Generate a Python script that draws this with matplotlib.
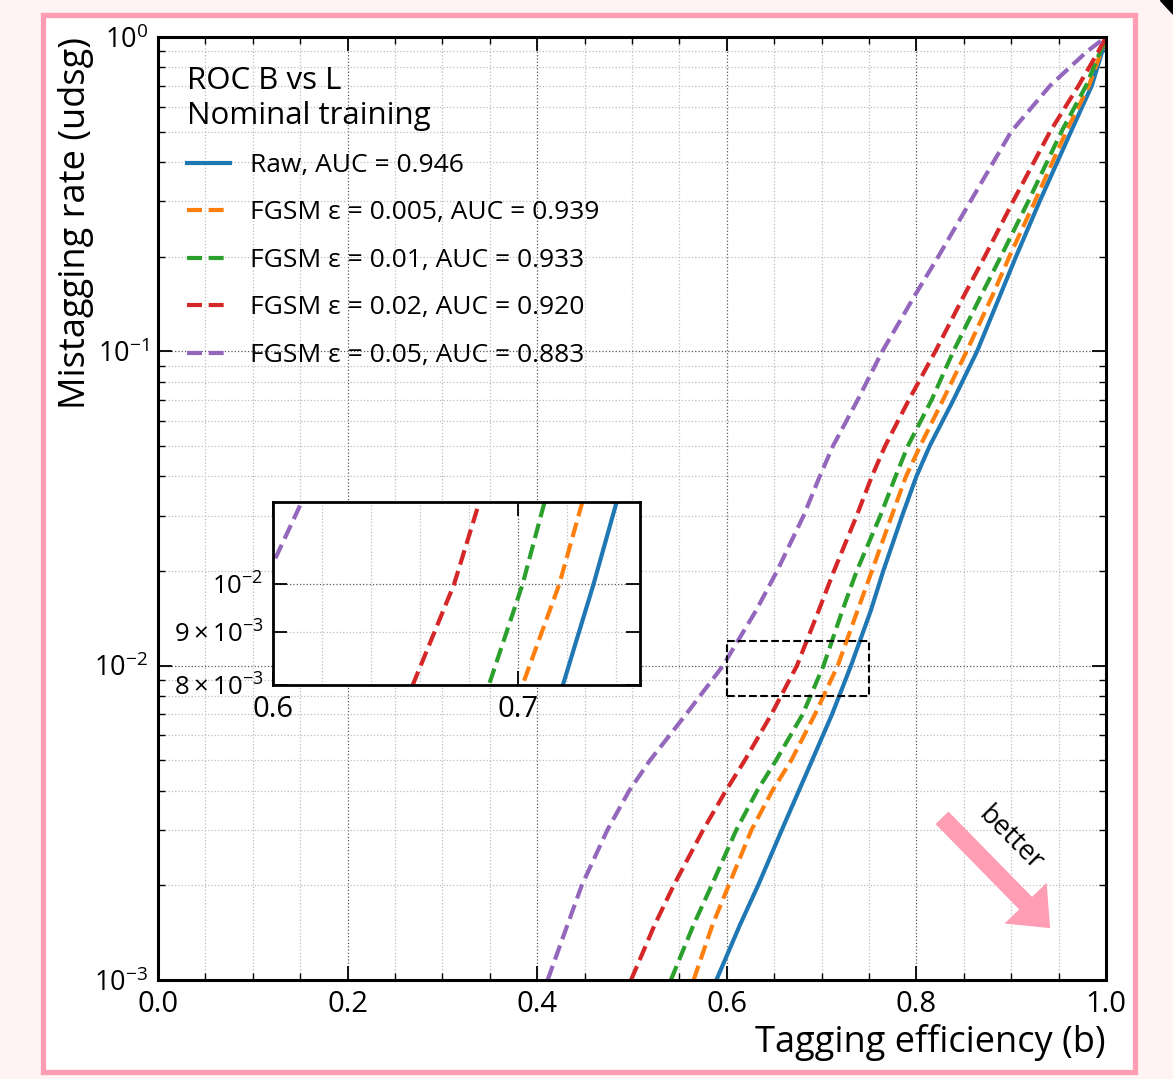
import numpy as np
import matplotlib
matplotlib.use("Agg")
import matplotlib.pyplot as plt
from matplotlib.patches import Rectangle, FancyArrow, Polygon
from matplotlib.ticker import MultipleLocator, LogLocator, NullFormatter

plt.rcParams['font.family'] = ['Open Sans', 'DejaVu Sans']
plt.rcParams['mathtext.fontset'] = 'custom'
plt.rcParams['mathtext.rm'] = 'Open Sans'
plt.rcParams['mathtext.it'] = 'Open Sans:italic'
plt.rcParams['mathtext.bf'] = 'Open Sans:bold'

# mistag rate levels (udsg) and b-efficiency
mistag = [0.001, 0.0015, 0.002, 0.003, 0.004, 0.005, 0.007, 0.01, 0.015, 0.02,
          0.03, 0.04, 0.05, 0.07, 0.1, 0.15, 0.2, 0.3, 0.5, 0.7, 0.9, 1.0]
eff_raw = [0.589, 0.614, 0.633, 0.658, 0.676, 0.690, 0.711, 0.731, 0.752, 0.765,
           0.785, 0.800, 0.814, 0.839, 0.864, 0.888, 0.905, 0.930, 0.963, 0.985,
           0.996, 1.0]
eff_005 = [0.565, 0.585, 0.602, 0.626, 0.648, 0.668, 0.693, 0.717, 0.738, 0.753,
           0.774, 0.789, 0.804, 0.828, 0.853, 0.880, 0.898, 0.925, 0.958, 0.982,
           0.995, 1.0]
eff_01 = [0.541, 0.565, 0.584, 0.610, 0.632, 0.652, 0.680, 0.702, 0.722, 0.737,
          0.762, 0.778, 0.791, 0.816, 0.839, 0.868, 0.889, 0.918, 0.953, 0.979,
          0.994, 1.0]
eff_02 = [0.499, 0.524, 0.544, 0.575, 0.599, 0.619, 0.647, 0.674, 0.697, 0.713,
          0.737, 0.753, 0.767, 0.792, 0.820, 0.850, 0.872, 0.902, 0.941, 0.971,
          0.992, 1.0]
eff_05 = [0.411, 0.432, 0.447, 0.474, 0.497, 0.519, 0.557, 0.596, 0.631, 0.653,
          0.681, 0.698, 0.712, 0.738, 0.764, 0.798, 0.823, 0.857, 0.900, 0.941,
          0.980, 1.0]

labels = ["Raw, AUC = 0.946",
          "FGSM ε = 0.005, AUC = 0.939",
          "FGSM ε = 0.01, AUC = 0.933",
          "FGSM ε = 0.02, AUC = 0.920",
          "FGSM ε = 0.05, AUC = 0.883"]
curves = [eff_raw, eff_005, eff_01, eff_02, eff_05]
colors = ['#1f77b4', '#ff7f0e', '#2ca02c', '#d62728', '#9467bd']
dashed = [False, True, True, True, True]

pink = '#ff9db4'
W, H = 1173, 1079
fig = plt.figure(figsize=(W / 100, H / 100), dpi=100, facecolor='#fff3f4')

# white card with pink frame
frame = Rectangle((43 / W, (H - 1072) / H), (1135 - 43) / W, (1072 - 15) / H,
                  transform=fig.transFigure, facecolor='white', edgecolor=pink,
                  lw=3.8, zorder=-10)
fig.add_artist(frame)
fig.add_artist(Polygon([(1160 / W, 1.0), (1.0, 1.0), (1.0, (H - 14) / H)],
                       closed=True, transform=fig.transFigure, color='black'))

ax = fig.add_axes([158 / W, (H - 980) / H, (1106 - 158) / W, (980 - 37) / H])
ax.set_facecolor('white')


def style_axes(a, xlab=21, ylab=19.5):
    a.tick_params(which='both', direction='in', top=True, right=True, pad=7)
    a.tick_params(axis='x', which='both', labelsize=xlab)
    a.tick_params(axis='y', which='both', labelsize=ylab)
    a.tick_params(which='major', length=10, width=1.3)
    a.tick_params(which='minor', length=5, width=1.0)
    for s in a.spines.values():
        s.set_linewidth(2.2)
    a.grid(which='major', ls=':', color='0.35', lw=0.9)
    a.grid(which='minor', ls=':', color='0.75', lw=0.9)
    a.set_axisbelow(True)


def draw_curves(a, with_labels):
    for e, lab, c, d in zip(curves, labels, colors, dashed):
        line, = a.plot(e, mistag, color=c, lw=3.0,
                       label=lab if with_labels else None)
        if d:
            line.set_dashes((3.6, 1.6))


draw_curves(ax, True)
ax.set_yscale('log')
ax.set_xlim(0, 1)
ax.set_ylim(1e-3, 1)
ax.xaxis.set_major_locator(MultipleLocator(0.2))
ax.xaxis.set_minor_locator(MultipleLocator(0.05))
ax.yaxis.set_minor_locator(LogLocator(base=10, subs=np.arange(2, 10)))
ax.yaxis.set_minor_formatter(NullFormatter())
style_axes(ax)

ax.set_xlabel("Tagging efficiency (b)", fontsize=26, loc='right', labelpad=4)
ax.set_ylabel("Mistagging rate (udsg)", fontsize=26, loc='top', labelpad=0)

leg = ax.legend(title="ROC B vs L\nNominal training", loc='upper left',
                frameon=False, fontsize=19, title_fontsize=22.5,
                alignment='left', handlelength=1.63, handletextpad=0.75,
                labelspacing=0.85, borderaxespad=0.7)

# zoom box
ax.add_patch(Rectangle((0.6, 0.008), 0.15, 0.004, fill=False, ls='--',
                       lw=1.5, color='black', zorder=5))

# "better" arrow
ax.add_patch(FancyArrow(0.827, 0.172, 0.114, -0.117, width=0.019,
                        head_width=0.062, head_length=0.037,
                        length_includes_head=True, transform=ax.transAxes,
                        color=pink, lw=0, zorder=6))
ax.text(0.899, 0.149, "better", transform=ax.transAxes, rotation=-45,
        fontsize=20, ha='center', va='center', rotation_mode='anchor')

# inset
axi = fig.add_axes([273 / W, (H - 685) / H, (640 - 273) / W, (685 - 502) / H])
axi.set_facecolor('white')
draw_curves(axi, False)
axi.set_yscale('log')
axi.set_xlim(0.6, 0.75)
axi.set_ylim(0.008, 0.012)
axi.xaxis.set_major_locator(MultipleLocator(0.1))
axi.xaxis.set_minor_locator(MultipleLocator(0.02))
style_axes(axi, xlab=21, ylab=18.5)
axi.tick_params(axis='x', which='minor', length=0)
axi.tick_params(axis='y', which='minor', length=10, width=1.3)
for s in axi.spines.values():
    s.set_linewidth(2.0)

fig.savefig("out.png", dpi=100, facecolor=fig.get_facecolor())
